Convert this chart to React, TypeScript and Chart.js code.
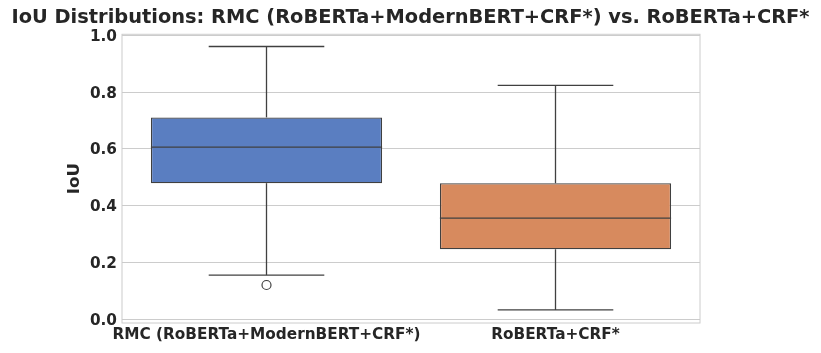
import React, { useEffect, useRef } from "react";
import { Chart, registerables } from "chart.js";

Chart.register(...registerables);

const categories = ["RMC (RoBERTa+ModernBERT+CRF*)", "RoBERTa+CRF*"];
const whiskerLow = [0.155, 0.032];
const q1 = [0.479, 0.246];
const median = [0.606, 0.356];
const q3 = [0.711, 0.479];
const whiskerHigh = [0.961, 0.824];
const outliers = [0.12, null];
const boxColors = ["#5a7ec1", "#d78a5e"];
const yTicks = [0, 0.2, 0.4, 0.6, 0.8, 1.0];

const FONT = "'DejaVu Sans', sans-serif";
const EDGE = "#404040";

const boxPlugin = {
  id: "boxParts",
  beforeDraw(chart: any) {
    const { ctx } = chart;
    ctx.save();
    ctx.fillStyle = "#ffffff";
    ctx.fillRect(0, 0, chart.width, chart.height);
    ctx.restore();
  },
  afterDatasetsDraw(chart: any) {
    const { ctx, chartArea, scales } = chart;
    const y = scales.y;
    const meta = chart.getDatasetMeta(0);
    ctx.save();
    ctx.strokeStyle = EDGE;
    ctx.lineWidth = 1.3;
    categories.forEach((_, i) => {
      const el = meta.data[i];
      const x = el.x;
      const w = el.width;
      const line = (x1: number, y1: number, x2: number, y2: number) => {
        ctx.beginPath();
        ctx.moveTo(x1, y1);
        ctx.lineTo(x2, y2);
        ctx.stroke();
      };
      line(x, y.getPixelForValue(whiskerLow[i]), x, y.getPixelForValue(q1[i]));
      line(x, y.getPixelForValue(q3[i]), x, y.getPixelForValue(whiskerHigh[i]));
      line(x - w / 4, y.getPixelForValue(whiskerLow[i]), x + w / 4, y.getPixelForValue(whiskerLow[i]));
      line(x - w / 4, y.getPixelForValue(whiskerHigh[i]), x + w / 4, y.getPixelForValue(whiskerHigh[i]));
      line(x - w / 2, y.getPixelForValue(median[i]), x + w / 2, y.getPixelForValue(median[i]));
    });
    ctx.strokeStyle = "#cccccc";
    ctx.lineWidth = 1;
    ctx.strokeRect(chartArea.left, chartArea.top, chartArea.right - chartArea.left, chartArea.bottom - chartArea.top);
    ctx.restore();
  },
};

export default function App() {
  const ref = useRef<HTMLCanvasElement>(null);
  useEffect(() => {
    const chart = new Chart(ref.current!, {
      type: "bar",
      data: {
        labels: categories,
        datasets: [
          {
            type: "bar",
            data: categories.map((_, i) => [q1[i], q3[i]]) as any,
            backgroundColor: boxColors,
            borderColor: EDGE,
            borderWidth: 1.3,
            borderSkipped: false,
            barPercentage: 0.8,
            categoryPercentage: 1.0,
            order: 2,
          },
          {
            type: "line",
            data: outliers as any,
            showLine: false,
            pointRadius: 4.5,
            pointBackgroundColor: "rgba(255,255,255,0)",
            pointBorderColor: EDGE,
            pointBorderWidth: 1.2,
            order: 1,
          } as any,
        ],
      },
      options: {
        animation: false,
        responsive: false,
        layout: { padding: { left: 0, right: 0, top: 0, bottom: 0 } },
        plugins: {
          legend: { display: false },
          tooltip: { enabled: false },
          title: {
            display: true,
            text: "IoU Distributions: RMC (RoBERTa+ModernBERT+CRF*) vs. RoBERTa+CRF*",
            color: "#262626",
            font: { family: FONT, size: 19.4, weight: "bold" },
            padding: { top: 6, bottom: 5 },
          },
        },
        scales: {
          x: {
            type: "category",
            offset: true,
            grid: { display: false, drawTicks: false },
            border: { display: false },
            ticks: {
              color: "#262626",
              font: { family: FONT, size: 15.3, weight: "bold" },
              padding: 3,
              maxRotation: 0,
              autoSkip: false,
            },
            afterFit(scale: any) {
              scale.height = 30;
            },
          },
          y: {
            type: "linear",
            position: "left",
            min: -0.014,
            max: 1.004,
            afterBuildTicks(scale: any) {
              scale.ticks = yTicks.map((v) => ({ value: v }));
            },
            grid: { color: "#cccccc", lineWidth: 1, drawTicks: false },
            border: { display: false },
            ticks: {
              color: "#262626",
              font: { family: FONT, size: 15.3, weight: "bold" },
              padding: 5,
              labelOffset: 1.5,
              callback: (v: any) => Number(v).toFixed(1),
            },
            title: {
              display: true,
              text: "IoU",
              color: "#262626",
              font: { family: FONT, size: 16.7, weight: "bold" },
              padding: { top: 65, bottom: 0 },
            },
            afterFit(scale: any) {
              scale.width = 122;
            },
          },
          yRight: {
            type: "linear",
            position: "right",
            display: true,
            grid: { display: false, drawTicks: false },
            border: { display: false },
            ticks: { display: false },
            afterFit(scale: any) {
              scale.width = 121;
            },
          },
        },
      },
      plugins: [boxPlugin],
    });
    return () => chart.destroy();
  }, []);
  return (
    <div style={{ position: "fixed", left: 0, top: 0, width: 821, height: 353, background: "#fff" }}>
      <canvas ref={ref} width={821} height={353} style={{ width: 821, height: 353, display: "block" }} />
    </div>
  );
}
